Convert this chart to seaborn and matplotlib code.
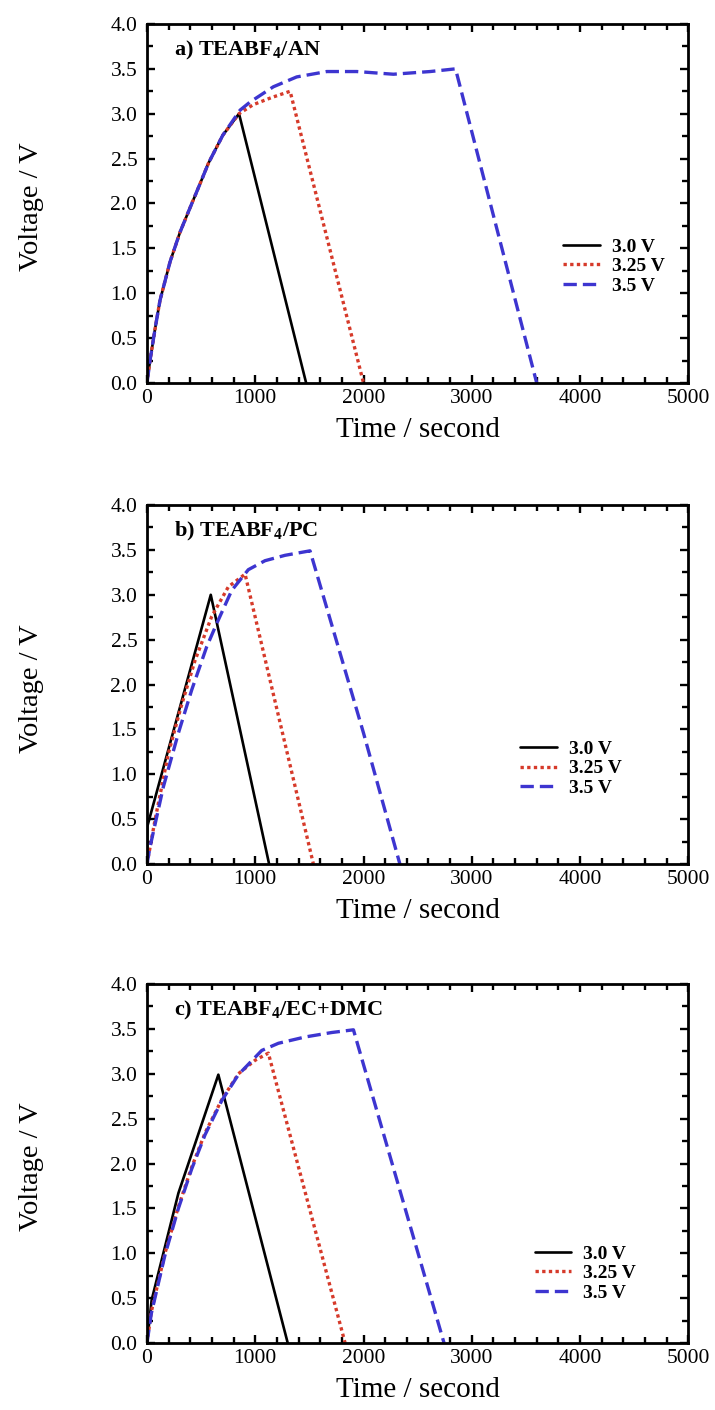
import numpy as np
import matplotlib
matplotlib.use("Agg")
import matplotlib.pyplot as plt
from matplotlib.ticker import MultipleLocator, FormatStrFormatter
import seaborn as sns
import pandas as pd

sns.set_style("ticks")
plt.rcParams['font.family'] = ['Liberation Serif', 'DejaVu Serif']
plt.rcParams['mathtext.fontset'] = 'custom'
plt.rcParams['mathtext.rm'] = 'Liberation Serif'
plt.rcParams['mathtext.bf'] = 'Liberation Serif:bold'
for key in ['text.color', 'axes.labelcolor', 'xtick.color', 'ytick.color', 'axes.edgecolor']:
    plt.rcParams[key] = 'black'

# panel titles and legend labels
titles = [r'a) TEABF$_\mathbf{4}$/AN', r'b) TEABF$_\mathbf{4}$/PC', r'c) TEABF$_\mathbf{4}$/EC+DMC']
labels = ['3.0 V', '3.25 V', '3.5 V']

# a) TEABF4/AN
an_30_t = [0, 28, 74, 120, 213, 305, 397, 490, 568, 700, 850, 1470]
an_30_v = [0, 0.25, 0.6, 0.92, 1.35, 1.68, 1.95, 2.22, 2.45, 2.76, 3.0, 0]
an_325_t = [0, 28, 74, 120, 213, 305, 397, 490, 568, 700, 850, 980, 1150, 1322, 2000]
an_325_v = [0, 0.25, 0.6, 0.92, 1.35, 1.68, 1.95, 2.22, 2.45, 2.76, 3.0, 3.10, 3.18, 3.25, 0]
an_35_t = [0, 28, 74, 120, 213, 305, 397, 490, 568, 700, 860, 952, 1167, 1383, 1661, 1938, 2276, 2616, 2850, 3600]
an_35_v = [0, 0.25, 0.6, 0.92, 1.35, 1.68, 1.95, 2.22, 2.45, 2.76, 3.04, 3.13, 3.30, 3.41, 3.47, 3.47, 3.44, 3.47, 3.50, 0]

# b) TEABF4/PC
pc_30_t = [0, 3, 589, 1128]
pc_30_v = [0, 0.42, 3.0, 0]
pc_325_t = [0, 74, 197, 314, 444, 598, 752, 906, 1537]
pc_325_v = [0, 0.49, 1.23, 1.75, 2.27, 2.76, 3.09, 3.23, 0]
pc_35_t = [0, 28, 151, 290, 413, 551, 644, 783, 936, 1090, 1275, 1506, 2000, 2336]
pc_35_v = [0, 0.19, 0.86, 1.46, 1.94, 2.42, 2.68, 3.05, 3.28, 3.38, 3.44, 3.49, 1.46, 0]

# c) TEABF4/EC+DMC
ec_30_t = [0, 43, 290, 444, 659, 1300]
ec_30_v = [0, 0.48, 1.67, 2.22, 2.99, 0]
ec_325_t = [0, 40, 166, 290, 413, 536, 690, 844, 998, 1121, 1830]
ec_325_v = [0, 0.35, 1.0, 1.52, 1.96, 2.34, 2.71, 3.0, 3.15, 3.23, 0]
ec_35_t = [0, 40, 166, 290, 413, 536, 690, 844, 1060, 1214, 1460, 1707, 1907, 2744]
ec_35_v = [0, 0.33, 0.98, 1.5, 1.94, 2.32, 2.7, 2.99, 3.26, 3.34, 3.41, 3.46, 3.49, 0]

panels = [
    [(an_30_t, an_30_v), (an_325_t, an_325_v), (an_35_t, an_35_v)],
    [(pc_30_t, pc_30_v), (pc_325_t, pc_325_v), (pc_35_t, pc_35_v)],
    [(ec_30_t, ec_30_v), (ec_325_t, ec_325_v), (ec_35_t, ec_35_v)],
]

colors = ['black', '#d63a2a', '#3d35d0']
styles = ['-', (0, (1.0, 1.0)), (0, (4.0, 1.8))]
widths = [1.9, 2.4, 2.4]

fig = plt.figure(figsize=(7.15, 14.1), dpi=100)
bottoms = [0.7284, 0.3872, 0.0475]
legend_pos = [(0.769, 0.325), (0.69, 0.266), (0.716, 0.194)]

for i, series in enumerate(panels):
    ax = fig.add_axes([0.2056, bottoms[i], 0.757, 0.2546])
    for j, (t, v) in enumerate(series):
        df = pd.DataFrame({'time': t, 'volt': v})
        sns.lineplot(data=df, x='time', y='volt', ax=ax, color=colors[j],
                     linestyle=styles[j], lw=widths[j], label=labels[j],
                     sort=False, estimator=None)
    ax.set_xlim(0, 5000)
    ax.set_ylim(0, 4.0)
    ax.xaxis.set_major_locator(MultipleLocator(1000))
    ax.xaxis.set_minor_locator(MultipleLocator(200))
    ax.yaxis.set_major_locator(MultipleLocator(0.5))
    ax.yaxis.set_minor_locator(MultipleLocator(0.25))
    ax.yaxis.set_major_formatter(FormatStrFormatter('%.1f'))
    ax.tick_params(which='both', direction='in', top=True, right=True, width=1.7)
    ax.tick_params(which='major', length=6, labelsize=15.5)
    ax.tick_params(axis='y', which='major', pad=7)
    ax.tick_params(axis='x', which='major', pad=4)
    ax.tick_params(which='minor', length=4)
    for sp in ax.spines.values():
        sp.set_linewidth(2)
    ax.set_xlabel('Time / second', fontsize=21)
    ax.set_ylabel('Voltage / V', fontsize=20.5)
    ax.xaxis.set_label_coords(0.5, -0.095)
    ax.yaxis.set_label_coords(-0.19, 0.49)
    ax.text(0.05, 0.926, titles[i], transform=ax.transAxes, fontsize=16,
            fontweight='bold', va='center', ha='left')
    leg = ax.legend(loc='center left', bbox_to_anchor=legend_pos[i], frameon=False,
                    borderpad=0, borderaxespad=0, handlelength=1.9, handletextpad=0.6,
                    labelspacing=0.1, prop={'weight': 'bold', 'size': 14})

fig.savefig('out.png', dpi=100)
